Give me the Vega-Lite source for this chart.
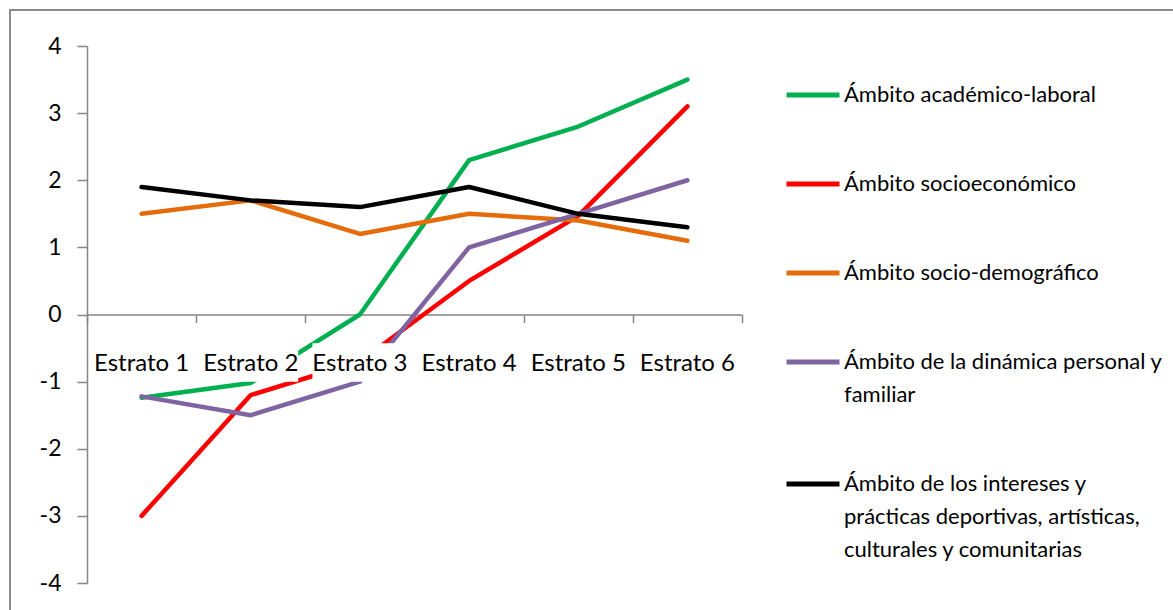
{
  "$schema": "https://vega.github.io/schema/vega-lite/v6.json",
  "autosize": "none",
  "padding": {"left": 10, "top": 10, "right": 0, "bottom": 0},
  "width": 1175,
  "height": 615,
  "background": "white",
  "config": {
    "view": {"stroke": "#8c8c8c", "strokeWidth": 2},
    "font": "Lato",
    "style": {"guide-label": {"lineHeight": 33}}
  },
  "datasets": {
    "series": [
      {"estrato": "Estrato 1", "ambito": "Ámbito académico-laboral", "valor": -1.24},
      {"estrato": "Estrato 2", "ambito": "Ámbito académico-laboral", "valor": -1.02},
      {"estrato": "Estrato 3", "ambito": "Ámbito académico-laboral", "valor": 0.0},
      {"estrato": "Estrato 4", "ambito": "Ámbito académico-laboral", "valor": 2.3},
      {"estrato": "Estrato 5", "ambito": "Ámbito académico-laboral", "valor": 2.8},
      {"estrato": "Estrato 6", "ambito": "Ámbito académico-laboral", "valor": 3.5},
      {"estrato": "Estrato 1", "ambito": "Ámbito socioeconómico", "valor": -3.0},
      {"estrato": "Estrato 2", "ambito": "Ámbito socioeconómico", "valor": -1.2},
      {"estrato": "Estrato 3", "ambito": "Ámbito socioeconómico", "valor": -0.7},
      {"estrato": "Estrato 4", "ambito": "Ámbito socioeconómico", "valor": 0.5},
      {"estrato": "Estrato 5", "ambito": "Ámbito socioeconómico", "valor": 1.47},
      {"estrato": "Estrato 6", "ambito": "Ámbito socioeconómico", "valor": 3.1},
      {"estrato": "Estrato 1", "ambito": "Ámbito socio-demográfico", "valor": 1.5},
      {"estrato": "Estrato 2", "ambito": "Ámbito socio-demográfico", "valor": 1.7},
      {"estrato": "Estrato 3", "ambito": "Ámbito socio-demográfico", "valor": 1.2},
      {"estrato": "Estrato 4", "ambito": "Ámbito socio-demográfico", "valor": 1.5},
      {"estrato": "Estrato 5", "ambito": "Ámbito socio-demográfico", "valor": 1.4},
      {"estrato": "Estrato 6", "ambito": "Ámbito socio-demográfico", "valor": 1.1},
      {"estrato": "Estrato 1", "ambito": "Ámbito de la dinámica personal y familiar", "valor": -1.22},
      {"estrato": "Estrato 2", "ambito": "Ámbito de la dinámica personal y familiar", "valor": -1.5},
      {"estrato": "Estrato 3", "ambito": "Ámbito de la dinámica personal y familiar", "valor": -1.0},
      {"estrato": "Estrato 4", "ambito": "Ámbito de la dinámica personal y familiar", "valor": 1.0},
      {"estrato": "Estrato 5", "ambito": "Ámbito de la dinámica personal y familiar", "valor": 1.5},
      {"estrato": "Estrato 6", "ambito": "Ámbito de la dinámica personal y familiar", "valor": 2.0},
      {"estrato": "Estrato 1", "ambito": "Ámbito de los intereses y prácticas deportivas, artísticas, culturales y comunitarias", "valor": 1.9},
      {"estrato": "Estrato 2", "ambito": "Ámbito de los intereses y prácticas deportivas, artísticas, culturales y comunitarias", "valor": 1.7},
      {"estrato": "Estrato 3", "ambito": "Ámbito de los intereses y prácticas deportivas, artísticas, culturales y comunitarias", "valor": 1.6},
      {"estrato": "Estrato 4", "ambito": "Ámbito de los intereses y prácticas deportivas, artísticas, culturales y comunitarias", "valor": 1.9},
      {"estrato": "Estrato 5", "ambito": "Ámbito de los intereses y prácticas deportivas, artísticas, culturales y comunitarias", "valor": 1.5},
      {"estrato": "Estrato 6", "ambito": "Ámbito de los intereses y prácticas deportivas, artísticas, culturales y comunitarias", "valor": 1.3}
    ],
    "cats": [
      {"estrato": "Estrato 1"},
      {"estrato": "Estrato 2"},
      {"estrato": "Estrato 3"},
      {"estrato": "Estrato 4"},
      {"estrato": "Estrato 5"},
      {"estrato": "Estrato 6"}
    ]
  },
  "encoding": {
    "x": {
      "field": "estrato",
      "type": "nominal",
      "sort": null,
      "scale": {"range": [77, 732], "paddingInner": 0, "paddingOuter": 0},
      "axis": {
        "orient": "bottom",
        "offset": -310.5,
        "title": null,
        "labels": false,
        "grid": false,
        "tickBand": "extent",
        "tickSize": 8,
        "tickColor": "#868686",
        "tickWidth": 1.5,
        "domainColor": "#868686",
        "domainWidth": 1.5
      }
    }
  },
  "layer": [
    {
      "data": {"name": "series"},
      "mark": {"type": "line", "strokeWidth": 4.5, "strokeJoin": "round", "strokeCap": "round"},
      "encoding": {
        "y": {
          "field": "valor",
          "type": "quantitative",
          "scale": {"domain": [-4, 4], "nice": false, "range": [573, 36], "zero": false},
          "axis": {
            "offset": -77,
            "title": null,
            "grid": false,
            "values": [-4, -3, -2, -1, 0, 1, 2, 3, 4],
            "labelExpr": "toString(datum.value)",
            "tickSize": 10,
            "tickColor": "#868686",
            "tickWidth": 1.5,
            "domainColor": "#868686",
            "domainWidth": 1.5,
            "labelFontSize": 23,
            "labelColor": "#000000",
            "labelPadding": 16,
            "labelFont": "Lato"
          }
        },
        "color": {
          "field": "ambito",
          "type": "nominal",
          "scale": {
            "domain": [
              "Ámbito académico-laboral",
              "Ámbito socioeconómico",
              "Ámbito socio-demográfico",
              "Ámbito de la dinámica personal y familiar",
              "Ámbito de los intereses y prácticas deportivas, artísticas, culturales y comunitarias"
            ],
            "range": ["#00B050", "#FF0000", "#E46C0A", "#8064A2", "#000000"]
          },
          "legend": {
            "orient": "none",
            "legendX": 774,
            "legendY": 56,
            "title": null,
            "padding": 0,
            "symbolType": "stroke",
            "symbolSize": 2809,
            "symbolStrokeWidth": 5,
            "labelFont": "Lato",
            "labelFontSize": 22,
            "labelColor": "#000000",
            "labelOffset": 2,
            "labelLimit": 400,
            "rowPadding": 49,
            "labelExpr": "datum.label == 'Ámbito de la dinámica personal y familiar' ? ['Ámbito de la dinámica personal y', 'familiar'] : (datum.label == 'Ámbito de los intereses y prácticas deportivas, artísticas, culturales y comunitarias' ? ['Ámbito de los intereses y', 'prácticas deportivas, artísticas,', 'culturales y comunitarias'] : datum.label)"
          }
        }
      }
    },
    {
      "data": {"name": "cats"},
      "mark": {"type": "bar", "color": "white", "width": {"band": 0.87}},
      "encoding": {
        "y": {"datum": -0.43, "type": "quantitative"},
        "y2": {"datum": -1.0}
      }
    },
    {
      "data": {"name": "cats"},
      "mark": {"type": "text", "fontSize": 24, "font": "Lato", "color": "#000000", "baseline": "middle", "align": "center"},
      "encoding": {
        "y": {"datum": -0.74, "type": "quantitative"},
        "text": {"field": "estrato"}
      }
    }
  ]
}
